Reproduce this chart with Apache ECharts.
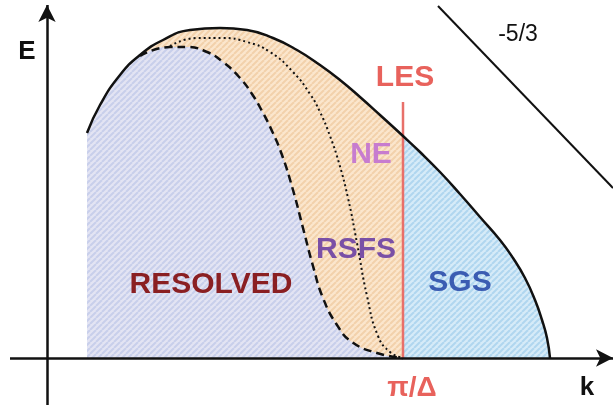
<!DOCTYPE html>
<html>
<head>
<meta charset="utf-8">
<script src="https://cdn.jsdelivr.net/npm/echarts@6/dist/echarts.min.js"></script>
<style>html,body{margin:0;padding:0;background:#fff}#c{width:613px;height:405px}</style>
</head>
<body>
<div id="c"></div>
<script>
// Axis extents (k horizontal, E vertical)
const kRange = [-47, 566];
const eRange = [-47, 358];
const kAxisLine = [[-37, 0], [566, 0]];
const eAxisLine = [[0, -47], [0, 353]];

// Full energy spectrum (solid)
const spectrum = [[40,225],[53,253],[73,283],[93,303],[116,318],[143,328],[173,330],[200,328],[226,320],[250,308],[273,293],[293,278],[313,261],[333,243],[356,222],[373,206],[393,186],[413,164],[433,141],[453,118],[466,100],[478,80],[488,58],[495,38],[500,20],[503,0]];
const cutoffK = 356;
// Resolved spectrum (dashed)
const resolved = [[40,225],[53,253],[73,283],[93,302],[123,311],[140,311],[160,306],[176,296],[193,280],[205,264],[215,247],[225,227],[235,203],[246,168],[256,130],[266,92],[276,60],[290,33],[305,16],[330,5],[356,0]];
// RSFS boundary (dotted)
const rsfs = [[123,312],[150,320],[176,320],[200,316],[223,306],[246,286],[263,264],[273,246],[283,222],[292,195],[301,160],[310,115],[320,62],[331,22],[343,6],[356,0]];
// LES cutoff line
const lesLine = [[356,0],[356,256]];
// -5/3 slope line
const slopeLine = [[391,352],[566,170]];

// Annotations
const labelTexts = ['E','k','π/Δ','LES','-5/3','NE','RSFS','SGS','RESOLVED'];
const labelK = [-20, 540, 365, 358, 471, 324, 309, 413, 164];
const labelE = [306, -30, -30, 280, 323, 203, 108, 75, 73];

const labelStyles = {
  'E': {color:'#111', fontSize:26, fontWeight:'bold'},
  'k': {color:'#111', fontSize:26, fontWeight:'bold'},
  'π/Δ': {color:'#e8625c', fontSize:28, fontWeight:'bold'},
  'LES': {color:'#e8625c', fontSize:30, fontWeight:'bold'},
  '-5/3': {color:'#111', fontSize:23, fontWeight:'normal'},
  'NE': {color:'#c77ccf', fontSize:30, fontWeight:'bold'},
  'RSFS': {color:'#7a50a6', fontSize:30, fontWeight:'bold'},
  'SGS': {color:'#3b5cb2', fontSize:30, fontWeight:'bold'},
  'RESOLVED': {color:'#8a1f22', fontSize:30, fontWeight:'bold'}
};

function hatch(base, stripe) {
  const c = document.createElement('canvas');
  c.width = 6; c.height = 6;
  const g = c.getContext('2d');
  g.fillStyle = base; g.fillRect(0,0,6,6);
  g.strokeStyle = stripe; g.lineWidth = 2;
  for (const o of [-6, 0, 6]) {
    g.beginPath(); g.moveTo(o, 6); g.lineTo(o + 6, 0); g.stroke();
  }
  return {image: c, repeat: 'repeat'};
}

const orangePart = spectrum.filter(p => p[0] <= cutoffK);
const bluePart = spectrum.filter(p => p[0] >= cutoffK);
const dashedPart = resolved.filter(p => p[0] >= 93);

const chart = echarts.init(document.getElementById('c'));
const font = 'Liberation Sans, Arial, sans-serif';
const sm = 0.5;
chart.setOption({
  animation: false,
  grid: {left:0, right:0, top:0, bottom:0},
  xAxis: {type:'value', min:kRange[0], max:kRange[1], show:false},
  yAxis: {type:'value', min:eRange[0], max:eRange[1], show:false},
  series: [
    {type:'line', data: orangePart, smooth:sm, showSymbol:false, lineStyle:{width:0},
     areaStyle:{color: hatch('#fbe6cd', '#f2d1ab'), opacity:1}, z:1},
    {type:'line', data: bluePart, smooth:sm, showSymbol:false, lineStyle:{width:0},
     areaStyle:{color: hatch('#d6ebf8', '#b0d6ef'), opacity:1}, z:1},
    {type:'line', data: resolved, smooth:sm, showSymbol:false, lineStyle:{width:0},
     areaStyle:{color: hatch('#e3e4f3', '#c8cfeb'), opacity:1}, z:2},
    {type:'line', data: dashedPart, smooth:sm, showSymbol:false,
     lineStyle:{color:'#111', width:2.5, type:[8,5]}, z:3},
    {type:'line', data: rsfs, smooth:sm, showSymbol:false,
     lineStyle:{color:'#111', width:2, type:[2,3]}, z:3},
    {type:'line', data: lesLine, showSymbol:false, lineStyle:{color:'#e8706a', width:2.5}, z:4},
    {type:'line', data: spectrum, smooth:sm, showSymbol:false,
     lineStyle:{color:'#111', width:2.5}, z:5},
    {type:'line', data: slopeLine, showSymbol:false, lineStyle:{color:'#111', width:2}, z:5},
    {type:'line', data: [], z:6,
     markLine:{silent:true, animation:false, symbol:['none','arrow'], symbolSize:[13,17],
       lineStyle:{color:'#111', width:2.5, type:'solid'}, label:{show:false},
       data:[[{coord:kAxisLine[0]},{coord:kAxisLine[1]}],[{coord:eAxisLine[0]},{coord:eAxisLine[1]}]]}},
    {type:'scatter', symbolSize:2, itemStyle:{color:'rgba(0,0,0,0)', opacity:1}, z:7,
     label:{show:true, position:'inside', fontFamily:font, align:'center', verticalAlign:'middle',
       formatter: p => p.name},
     data: labelTexts.map((t,i) => ({value:[labelK[i], labelE[i]], name:t,
       label:Object.assign({}, labelStyles[t])}))}
  ]
});
</script>
</body>
</html>
